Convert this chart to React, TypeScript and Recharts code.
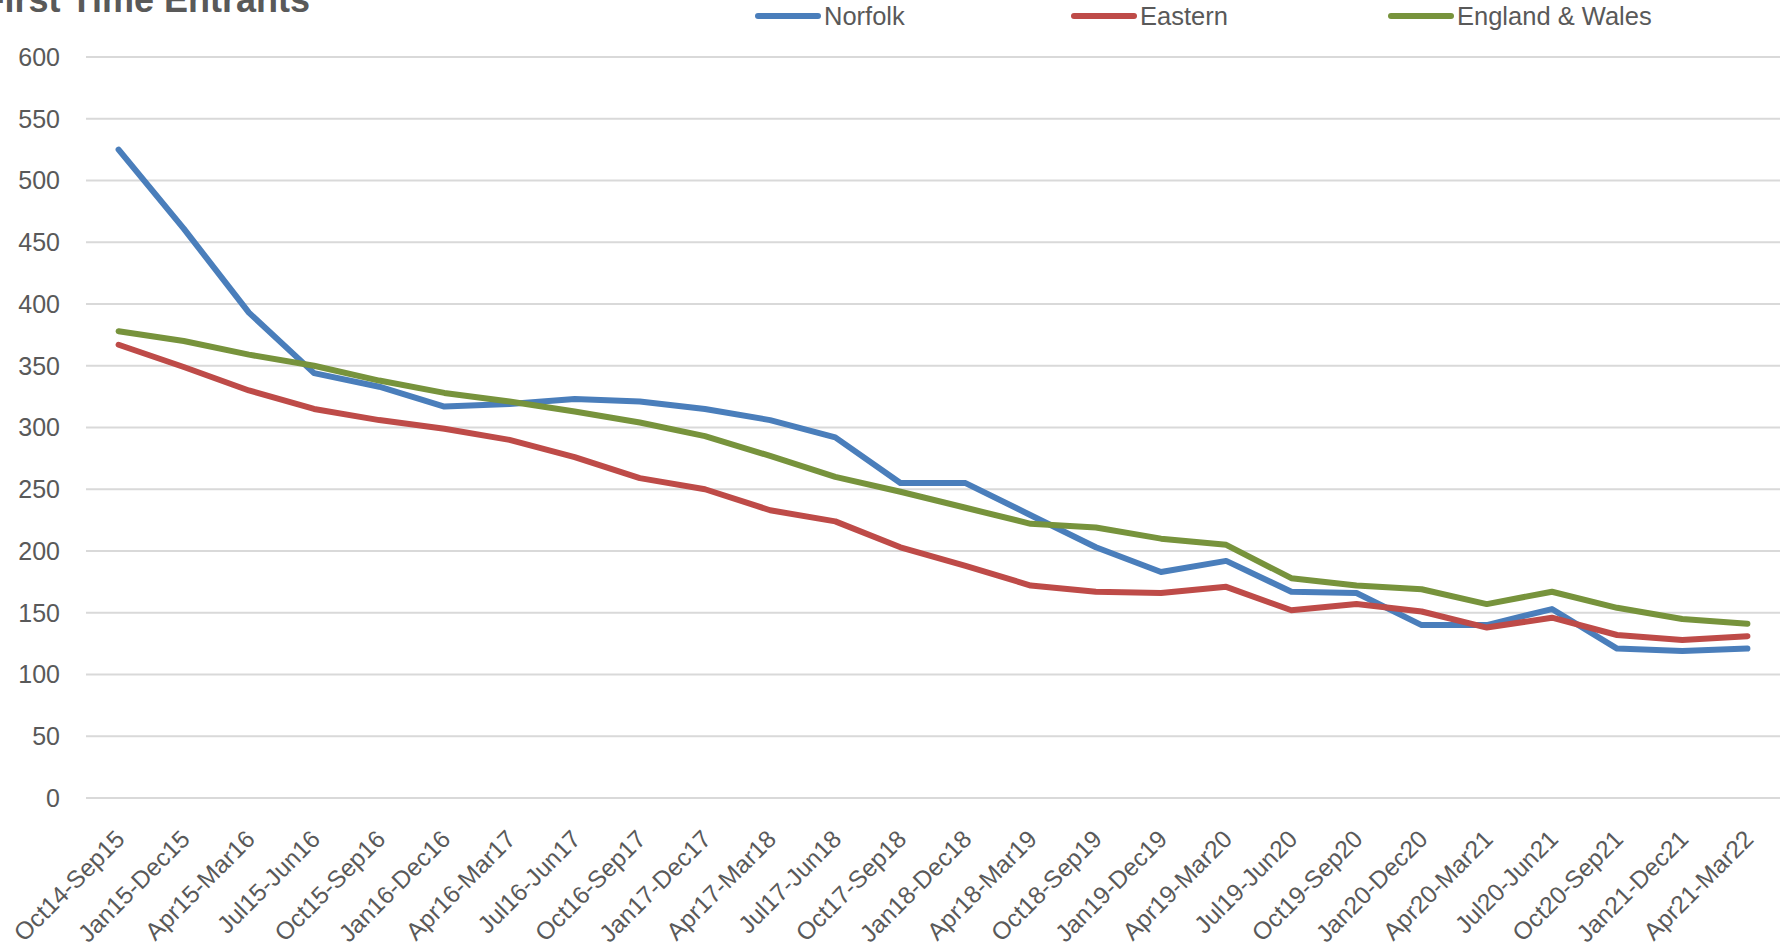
import React from "react";
import { LineChart, Line, XAxis, YAxis, CartesianGrid } from "recharts";

const categories = [
  "Oct14-Sep15", "Jan15-Dec15", "Apr15-Mar16", "Jul15-Jun16", "Oct15-Sep16", "Jan16-Dec16",
  "Apr16-Mar17", "Jul16-Jun17", "Oct16-Sep17", "Jan17-Dec17", "Apr17-Mar18", "Jul17-Jun18",
  "Oct17-Sep18", "Jan18-Dec18", "Apr18-Mar19", "Oct18-Sep19", "Jan19-Dec19", "Apr19-Mar20",
  "Jul19-Jun20", "Oct19-Sep20", "Jan20-Dec20", "Apr20-Mar21", "Jul20-Jun21", "Oct20-Sep21",
  "Jan21-Dec21", "Apr21-Mar22",
];

const norfolk = [525, 461, 393, 344, 333, 317, 319, 323, 321, 315, 306, 292, 255, 255, 229, 203, 183, 192, 167, 166, 140, 140, 153, 121, 119, 121];
const eastern = [367, 349, 330, 315, 306, 299, 290, 276, 259, 250, 233, 224, 203, 188, 172, 167, 166, 171, 152, 157, 151, 138, 146, 132, 128, 131];
const englandWales = [378, 370, 359, 350, 338, 328, 321, 313, 304, 293, 277, 260, 248, 235, 222, 219, 210, 205, 178, 172, 169, 157, 167, 154, 145, 141];

const yTicks = [0, 50, 100, 150, 200, 250, 300, 350, 400, 450, 500, 550, 600];

const seriesNames = ["Norfolk", "Eastern", "England & Wales"];
const seriesColors = ["#4A7EBB", "#BE4B48", "#77933C"];

const data = categories.map((c, i) => ({
  name: c,
  norfolk: norfolk[i],
  eastern: eastern[i],
  ew: englandWales[i],
}));

const FONT = "'Liberation Sans', Arial, sans-serif";
const TEXT = "#595959";

const XTick = (props: any) => {
  const { x, y, payload } = props;
  return (
    <text
      x={x + 3}
      y={y + 30}
      transform={`rotate(-45, ${x + 3}, ${y + 30})`}
      textAnchor="end"
      dominantBaseline="middle"
      fontSize={24.5}
      fontFamily={FONT}
      fill={TEXT}
    >
      {payload.value}
    </text>
  );
};

const legendX = [755, 1071, 1388];

const legendItems = () =>
  seriesNames.map((n, i) => (
    <g key={n}>
      <line x1={legendX[i] + 3} y1={16} x2={legendX[i] + 63} y2={16} stroke={seriesColors[i]} strokeWidth={6} strokeLinecap="round" />
      <text x={legendX[i] + 69} y={16} dominantBaseline="central" fontSize={25.5} fontFamily={FONT} fill={TEXT}>
        {n}
      </text>
    </g>
  ));

export default function App() {
  return (
    <div style={{ position: "absolute", left: 0, top: 0, width: 1784, height: 950, background: "#fff" }}>
      <LineChart width={1784} height={950} data={data} margin={{ top: 57, right: 4, bottom: 0, left: 0 }}>
        <text x={310} y={12} textAnchor="end" fontSize={36} fontWeight="bold" fontFamily={FONT} fill={TEXT}>
          First Time Entrants
        </text>
        <g>{legendItems()}</g>
        <CartesianGrid horizontal vertical={false} stroke="#d9d9d9" strokeWidth={2} />
        <XAxis
          dataKey="name"
          interval={0}
          padding={{ left: 32.6, right: 32.6 }}
          height={152}
          tickLine={false}
          axisLine={{ stroke: "#d9d9d9", strokeWidth: 2 }}
          tick={<XTick />}
        />
        <YAxis
          domain={[0, 600]}
          ticks={yTicks}
          width={86}
          tickLine={false}
          axisLine={false}
          tickSize={0}
          tickMargin={26}
          tick={{ fontSize: 25, fontFamily: FONT, fill: TEXT }}
        />
        <Line dataKey="norfolk" name="Norfolk" stroke={seriesColors[0]} strokeWidth={6} dot={false} type="linear" strokeLinejoin="round" strokeLinecap="round" isAnimationActive={false} />
        <Line dataKey="eastern" name="Eastern" stroke={seriesColors[1]} strokeWidth={6} dot={false} type="linear" strokeLinejoin="round" strokeLinecap="round" isAnimationActive={false} />
        <Line dataKey="ew" name="England & Wales" stroke={seriesColors[2]} strokeWidth={6} dot={false} type="linear" strokeLinejoin="round" strokeLinecap="round" isAnimationActive={false} />
      </LineChart>
    </div>
  );
}
